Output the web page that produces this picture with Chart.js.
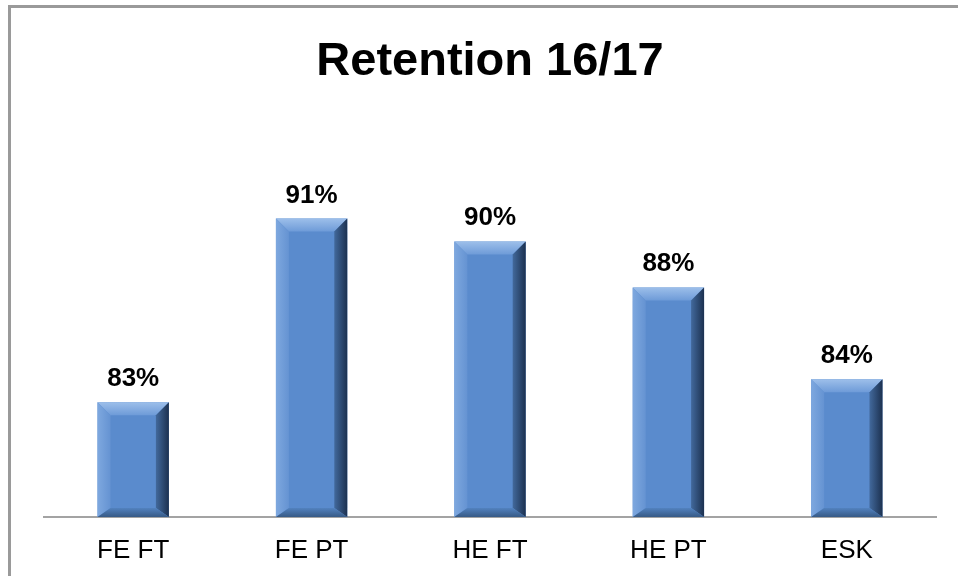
<html><head><meta charset="utf-8">
<script src="https://cdn.jsdelivr.net/npm/chart.js@4.4.0/dist/chart.umd.min.js"></script>
<style>
 body { margin:0; background:#fff; overflow:hidden; }
 #wrap { position:relative; width:958px; height:576px; }
 #frame { position:absolute; left:8px; top:5px; width:980px; height:600px;
          border-left:3px solid #9a9a9a; border-top:3px solid #9a9a9a; }
 canvas { position:absolute; left:0; top:0; }
</style>
</head>
<body>
<div id="wrap">
 <div id="frame"></div>
 <canvas id="myChart" width="958" height="576"></canvas>
</div>
<script>
var categories = ['FE FT', 'FE PT', 'HE FT', 'HE PT', 'ESK'];
var retention = [83, 91, 90, 88, 84];
var chartTitle = 'Retention 16/17';
var fontFamily = '"Liberation Sans", Arial, sans-serif';

function poly(ctx, pts, fill) {
  ctx.beginPath();
  ctx.moveTo(pts[0][0], pts[0][1]);
  for (var k = 1; k < pts.length; k++) ctx.lineTo(pts[k][0], pts[k][1]);
  ctx.closePath();
  ctx.fillStyle = fill;
  ctx.fill();
}

// bevel look + value labels on top of the bars
var bevelBars = {
  id: 'bevelBars',
  afterDatasetsDraw: function(chart) {
    var ctx = chart.ctx;
    var meta = chart.getDatasetMeta(0);
    var bottom = chart.chartArea.bottom;
    ctx.save();
    meta.data.forEach(function(bar, i) {
      var p = bar.getProps(['x', 'y', 'base', 'width'], true);
      var l = p.x - p.width / 2, r = p.x + p.width / 2, t = p.y;
      var b = Math.min(p.base, bottom);
      var d = 13, db = 9;
      var gt = ctx.createLinearGradient(0, t, 0, t + d);
      gt.addColorStop(0, '#9dbfea');
      gt.addColorStop(1, '#6e9bd8');
      poly(ctx, [[l, t], [r, t], [r - d, t + d], [l + d, t + d]], gt);
      var gl = ctx.createLinearGradient(l, 0, l + d, 0);
      gl.addColorStop(0, '#7ea8df');
      gl.addColorStop(1, '#6593d2');
      poly(ctx, [[l, t], [l + d, t + d], [l + d, b - db], [l, b]], gl);
      var gr = ctx.createLinearGradient(r - d, 0, r, 0);
      gr.addColorStop(0, '#42699c');
      gr.addColorStop(1, '#1c3150');
      poly(ctx, [[r, t], [r, b], [r - d, b - db], [r - d, t + d]], gr);
      var gb = ctx.createLinearGradient(0, b - db, 0, b);
      gb.addColorStop(0, '#5282bf');
      gb.addColorStop(1, '#375a86');
      poly(ctx, [[l, b], [l + d, b - db], [r - d, b - db], [r, b]], gb);

      ctx.fillStyle = '#000';
      ctx.font = 'bold 26px ' + fontFamily;
      ctx.textAlign = 'center';
      ctx.textBaseline = 'alphabetic';
      ctx.fillText(retention[i] + '%', p.x, t - 16);
    });
    ctx.restore();
  }
};

var ctx = document.getElementById('myChart');
var myChart = new Chart(ctx, {
  type: 'bar',
  data: {
    labels: categories,
    datasets: [{
      data: retention,
      backgroundColor: '#5a8bcd',
      borderWidth: 0,
      barPercentage: 0.4,
      categoryPercentage: 1.0
    }]
  },
  options: {
    responsive: false,
    animation: false,
    layout: { padding: { left: 44, right: 22, top: 0, bottom: 12 } },
    plugins: {
      legend: { display: false },
      tooltip: { enabled: false },
      title: {
        display: true,
        text: chartTitle,
        color: '#000',
        font: { family: fontFamily, size: 47, weight: 'bold', lineHeight: 1.2 },
        padding: { top: 34, bottom: 34 }
      }
    },
    scales: {
      x: {
        grid: { display: false, drawTicks: false, tickLength: 0 },
        border: { display: true, color: '#a3a3a3', width: 2 },
        ticks: { color: '#000', padding: 18, font: { family: fontFamily, size: 26 } },
        afterFit: function(scale) { scale.height = 47; }
      },
      y: {
        display: false,
        min: 78,
        max: 95.1
      }
    }
  },
  plugins: [bevelBars]
});
</script>
</body></html>
